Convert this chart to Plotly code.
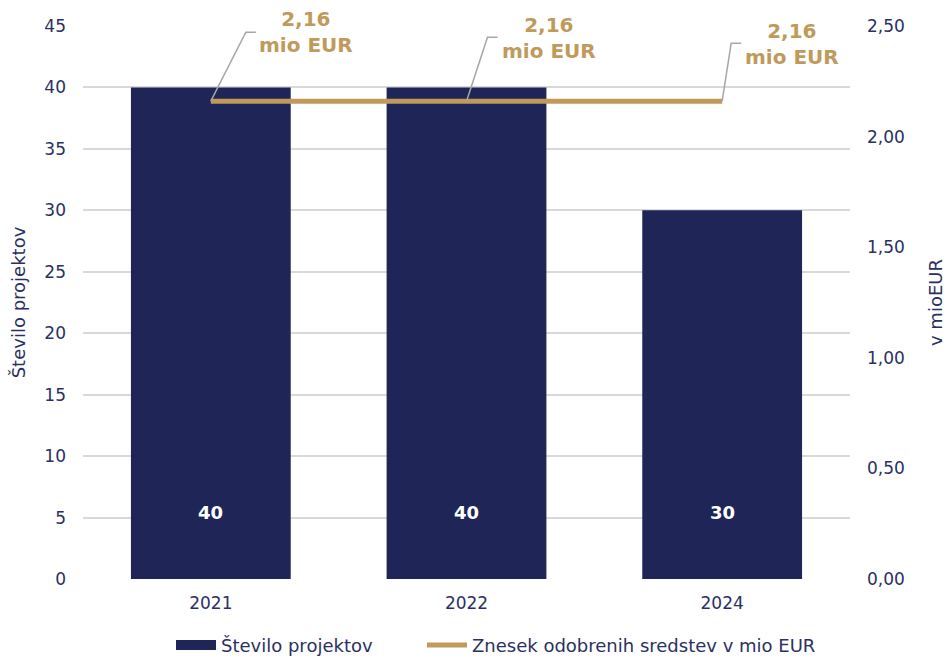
import plotly.graph_objects as go

years = ["2021", "2022", "2024"]
projects = [40, 40, 30]
amount_mio = [2.16, 2.16, 2.16]
amount_labels = ["2,16<br>mio EUR", "2,16<br>mio EUR", "2,16<br>mio EUR"]
left_ticks = [0, 5, 10, 15, 20, 25, 30, 35, 40, 45]
right_ticks = [0, 0.5, 1.0, 1.5, 2.0, 2.5]

NAVY = "#1F2556"
TXT = "#2A3062"
GOLD = "#C09A5B"
GRID = "#D9D9D9"
CONN = "#A6A6A6"
FONT = "DejaVu Sans"

fig = go.Figure()
fig.add_trace(go.Bar(x=years, y=projects, marker=dict(color=NAVY, line=dict(width=0)),
                     name="Število projektov", showlegend=False, yaxis="y"))
# legend proxy with wide swatch like the original
fig.add_trace(go.Scatter(x=[years[0]], y=[None], mode="lines", line=dict(color=NAVY, width=10),
                         name="Število projektov", yaxis="y", legend="legend"))
fig.add_trace(go.Scatter(x=years, y=amount_mio, mode="lines", line=dict(color=GOLD, width=5),
                         name="Znesek odobrenih sredstev v mio EUR", yaxis="y2", legend="legend2"))

# value labels inside bars (x given as category index)
for i, v in enumerate(projects):
    fig.add_annotation(x=i, y=0, xref="x", yref="y", text=str(v), showarrow=False,
                       yanchor="middle", yshift=67,
                       font=dict(family=FONT, size=18, color="white", weight="bold"))

# callout labels with elbow leader lines
offsets = [(35, 69, 95, 69), (21, 64, 82, 63), (9, 58, 70, 57)]
for i, (v, lab, (dx, dy, tx, ty)) in enumerate(zip(amount_mio, amount_labels, offsets)):
    fig.add_shape(type="path", xref="x", yref="y2", xsizemode="pixel", ysizemode="pixel",
                  xanchor=i, yanchor=v, path=f"M0,0 L{dx},{dy} L{dx+10},{dy}",
                  line=dict(color=CONN, width=1.5))
    fig.add_annotation(x=i, y=v, xref="x", yref="y2", text=lab, showarrow=False,
                       xshift=tx, yshift=ty,
                       font=dict(family=FONT, size=20, color=GOLD, weight="bold"))

leg_common = dict(orientation="h", y=-0.12, yanchor="middle", xanchor="left",
                  font=dict(size=18, color=TXT), itemwidth=40, bgcolor="rgba(0,0,0,0)")

fig.update_layout(
    width=946, height=660,
    margin=dict(l=83, r=96, t=26, b=81, autoexpand=False),
    paper_bgcolor="white", plot_bgcolor="white",
    separators=",.",
    bargap=0.375,
    font=dict(family=FONT, size=18, color=TXT),
    xaxis=dict(type="category", categoryorder="array", categoryarray=years, range=[-0.5, 2.5],
               showgrid=False, showline=False, ticks="", automargin=False,
               tickfont=dict(size=17, color=TXT), ticklabelstandoff=12),
    yaxis=dict(range=[0, 45], tickvals=left_ticks, showgrid=True, gridcolor=GRID, gridwidth=1.5,
               zeroline=False, showline=False, ticks="", tickfont=dict(size=17, color=TXT),
               ticklabelstandoff=16, automargin=False,
               title=dict(text="Število projektov", font=dict(size=18, color=TXT), standoff=14)),
    yaxis2=dict(range=[0, 2.5], tickvals=right_ticks, tickformat=".2f", overlaying="y", side="right",
                showgrid=False, zeroline=False, showline=False, ticks="", automargin=False,
                tickfont=dict(size=17, color=TXT), ticklabelstandoff=16,
                title=dict(text="v mioEUR", font=dict(size=18, color=TXT), standoff=25)),
    legend=dict(x=(171 - 83) / 767, **leg_common),
    legend2=dict(x=(422 - 83) / 767, **leg_common),
)

fig.write_html("out.html", config={"displayModeBar": False},
               post_script="document.body.style.margin='0px';")
